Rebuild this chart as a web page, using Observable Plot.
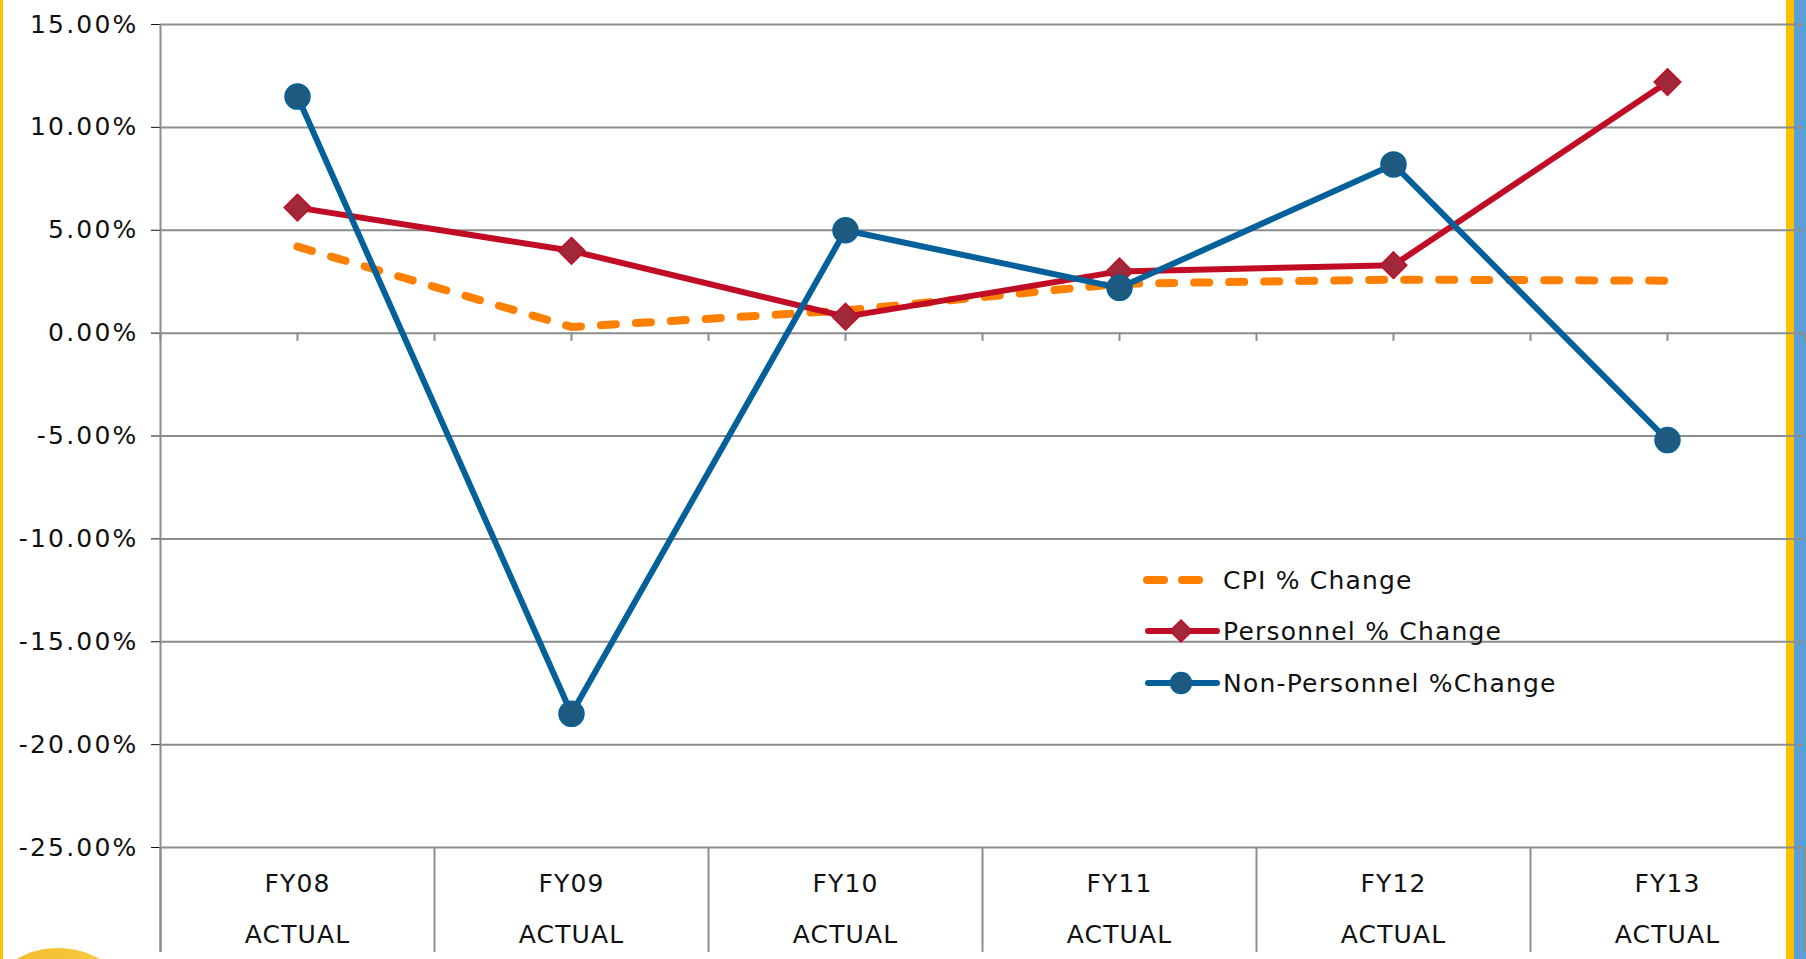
<!DOCTYPE html>
<html>
<head>
<meta charset="utf-8">
<script src="https://cdn.jsdelivr.net/npm/d3@7"></script>
<script src="https://cdn.jsdelivr.net/npm/@observablehq/plot@0.6"></script>
<style>
  html, body { margin: 0; padding: 0; background: #fff; }
  body { width: 1806px; height: 959px; position: relative; overflow: hidden; font-family: "DejaVu Sans", Verdana, sans-serif; }
  #chart { position: absolute; left: 0; top: 0; z-index: 2; }
  .deco { position: absolute; z-index: 1; }
  .legend { position: absolute; z-index: 3; left: 1140px; top: 0; }
  .legend .item { position: absolute; left: 0; height: 40px; width: 520px; }
  .legend svg { position: absolute; left: 0; top: 0; }
  .legend span { position: absolute; left: 83px; top: 50%; transform: translateY(-50%); font-size: 25px; color: #111; white-space: nowrap; letter-spacing: 1.2px; }
</style>
</head>
<body>
<div class="deco" style="left:0;top:0;width:3px;height:959px;background:#FFC000"></div>
<div class="deco" style="left:1786px;top:0;width:8px;height:959px;background:#FFC000"></div>
<div class="deco" style="left:1794px;top:0;width:12px;height:959px;background:#5B9FD8"></div>
<div class="deco" style="left:-26px;top:948px;width:168px;height:168px;border-radius:50%;background:linear-gradient(90deg,#F2B42A,#F6D244)"></div>
<div id="chart"></div>
<div class="legend" id="legend"></div>
<script>
const categories = ["FY08", "FY09", "FY10", "FY11", "FY12", "FY13"];
const subLabel = "ACTUAL";
const cpi = [4.2, 0.3, 1.1, 2.4, 2.6, 2.55];
const personnel = [6.1, 4.0, 0.8, 3.0, 3.3, 12.2];
const nonPersonnel = [11.5, -18.5, 5.0, 2.2, 8.2, -5.2];
const yTicks = [15, 10, 5, 0, -5, -10, -15, -20, -25];
const seriesNames = ["CPI % Change", "Personnel % Change", "Non-Personnel %Change"];

const toRows = vals => vals.map((v, i) => ({i, v, cat: categories[i]}));
const cpiRows = toRows(cpi);
const perRows = toRows(personnel);
const npRows = toRows(nonPersonnel);

const idx = categories.map((_, i) => i);
const bounds = d3.range(-0.5, categories.length, 1);
const halves = d3.range(-0.5, categories.length, 0.5);
const yBottom = -30.1; // extends separators below the frame

const C = {grid: "#8c8c8c", cpi: "#FF8000", per: "#C00D25", perFill: "#A1283A", np: "#04609A", npFill: "#1E5A80"};

const chart = Plot.plot({
  width: 1806,
  height: 959,
  marginLeft: 160,
  marginRight: 2,
  marginTop: 24,
  marginBottom: 112,
  style: {background: "transparent", fontFamily: "DejaVu Sans, Verdana, sans-serif", fontSize: "25px", color: "#111", overflow: "visible", letterSpacing: "1.1px"},
  x: {type: "linear", domain: [-0.5, categories.length - 0.5], axis: null},
  y: {domain: [-25, 15], ticks: yTicks, tickFormat: d => d.toFixed(2) + "%", tickSize: 9, tickPadding: 13, label: null},
  marks: [
    Plot.ruleY(yTicks, {x1: -0.5, x2: categories.length - 0.5, stroke: C.grid, strokeWidth: 2}),
    Plot.ruleX([-0.5], {y1: 15, y2: yBottom, stroke: C.grid, strokeWidth: 2}),
    Plot.ruleX(bounds, {y1: -25, y2: yBottom, stroke: C.grid, strokeWidth: 2}),
    Plot.ruleX(halves, {y1: 0, y2: -0.4, stroke: C.grid, strokeWidth: 2}),
    Plot.text(idx, {x: d => d, y: () => -25, text: d => categories[d], dy: 36, fontSize: 25, fill: "#111"}),
    Plot.text(idx, {x: d => d, y: () => -25, text: () => subLabel, dy: 87, fontSize: 25, fill: "#111"}),
    Plot.line(cpiRows, {x: "i", y: "v", stroke: C.cpi, strokeWidth: 8, strokeDasharray: "15,20", strokeLinecap: "round", strokeLinejoin: "round"}),
    Plot.line(perRows, {x: "i", y: "v", stroke: C.per, strokeWidth: 6, strokeLinejoin: "round"}),
    Plot.dot(perRows, {x: "i", y: "v", symbol: "diamond2", r: 12, fill: C.perFill, stroke: C.per, strokeWidth: 1.5}),
    Plot.line(npRows, {x: "i", y: "v", stroke: C.np, strokeWidth: 6, strokeLinejoin: "round"}),
    Plot.dot(npRows, {x: "i", y: "v", r: 12.5, fill: C.npFill, stroke: C.np, strokeWidth: 1.5})
  ]
});
chart.querySelectorAll("text").forEach(t => t.setAttribute("fill", "#111"));
chart.querySelectorAll('g[aria-label="y-axis"] text, g[aria-label="y-axis tick label"] text').forEach(t => t.setAttribute("letter-spacing", "2.2px"));
document.getElementById("chart").appendChild(chart);

// Legend
const legend = document.getElementById("legend");
const legendTops = [560, 611, 663];
const ns = "http://www.w3.org/2000/svg";
seriesNames.forEach((name, k) => {
  const item = document.createElement("div");
  item.className = "item";
  item.style.top = legendTops[k] + "px";
  const svg = document.createElementNS(ns, "svg");
  svg.setAttribute("width", 90); svg.setAttribute("height", 40);
  const line = document.createElementNS(ns, "line");
  line.setAttribute("y1", 20); line.setAttribute("y2", 20);
  line.setAttribute("stroke-linecap", "round");
  if (k === 0) {
    line.setAttribute("x1", 7); line.setAttribute("x2", 63);
    line.setAttribute("stroke", C.cpi); line.setAttribute("stroke-width", 8);
    line.setAttribute("stroke-dasharray", "17,18");
  } else {
    line.setAttribute("x1", 8); line.setAttribute("x2", 77);
    line.setAttribute("stroke", k === 1 ? C.per : C.np); line.setAttribute("stroke-width", 6);
  }
  svg.appendChild(line);
  if (k === 1) {
    const p = document.createElementNS(ns, "path");
    p.setAttribute("d", "M41,9 L52,20 L41,31 L30,20 Z");
    p.setAttribute("fill", C.perFill); p.setAttribute("stroke", C.per); p.setAttribute("stroke-width", 1.5);
    svg.appendChild(p);
  } else if (k === 2) {
    const c = document.createElementNS(ns, "circle");
    c.setAttribute("cx", 41); c.setAttribute("cy", 20); c.setAttribute("r", 10.5);
    c.setAttribute("fill", C.npFill); c.setAttribute("stroke", C.np); c.setAttribute("stroke-width", 1.5);
    svg.appendChild(c);
  }
  item.appendChild(svg);
  const span = document.createElement("span");
  span.textContent = name;
  item.appendChild(span);
  legend.appendChild(item);
});
</script>
</body>
</html>
